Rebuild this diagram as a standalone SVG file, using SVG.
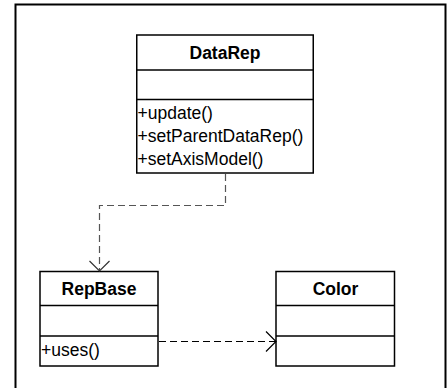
<svg xmlns="http://www.w3.org/2000/svg" width="447" height="388" viewBox="0 0 447 388">
<style>
.box{fill:#fff;stroke:#000;stroke-width:1.5}
.div{stroke:#000;stroke-width:1.5}
.title{font-family:"Liberation Sans",Arial,sans-serif;font-size:17.5px;font-weight:bold;text-anchor:middle;fill:#000}
.op{font-family:"Liberation Sans",Arial,sans-serif;font-size:17.5px;fill:#000}
.dep{fill:none;stroke-dasharray:7,4;stroke-width:1.2}
.head{fill:none;stroke-width:1.2}
</style>
<rect x="0" y="0" width="447" height="388" fill="#fff"/>
<path d="M15.5,400 V4.5 H445.5 V400" fill="none" stroke="#000" stroke-width="2"/>
<g id="DataRep">
<rect class="box" x="136.75" y="35" width="176.5" height="138"/>
<line class="div" x1="136.75" y1="70" x2="313.25" y2="70"/>
<line class="div" x1="136.75" y1="99.5" x2="313.25" y2="99.5"/>
<text class="title" x="225" y="58.5">DataRep</text>
<text class="op" x="137.5" y="119">+update()</text>
<text class="op" x="137.5" y="142">+setParentDataRep()</text>
<text class="op" x="137.5" y="165">+setAxisModel()</text>
</g>
<g id="RepBase">
<rect class="box" x="40" y="271.5" width="118" height="94.5"/>
<line class="div" x1="40" y1="305.5" x2="158" y2="305.5"/>
<line class="div" x1="40" y1="336" x2="158" y2="336"/>
<text class="title" x="99" y="294.5">RepBase</text>
<text class="op" x="41" y="356">+uses()</text>
</g>
<g id="Color">
<rect class="box" x="276" y="271.5" width="118.5" height="94.5"/>
<line class="div" x1="276" y1="305.5" x2="394.5" y2="305.5"/>
<line class="div" x1="276" y1="336" x2="394.5" y2="336"/>
<text class="title" x="335.5" y="294.5">Color</text>
</g>
<g id="connectors">
<path class="dep" d="M225.5,174 V205.5 H99.5 V270" stroke="#555"/>
<path class="head" d="M89.5,261 L99.5,271 L109.5,261" stroke="#333"/>
<path class="dep" d="M159,341.5 H275" stroke="#000"/>
<path class="head" d="M266,331.5 L276,341.5 L266,351.5" stroke="#000"/>
</g>
</svg>
